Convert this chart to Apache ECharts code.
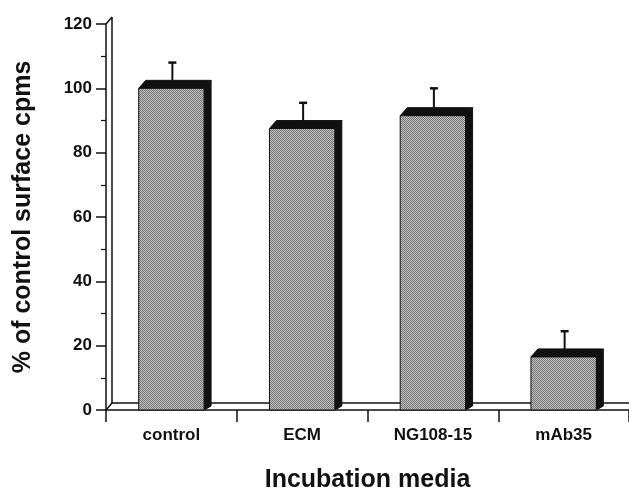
<!DOCTYPE html>
<html><head><meta charset="utf-8">
<script src="https://cdn.jsdelivr.net/npm/echarts@6/dist/echarts.min.js"></script>
<style>html,body{margin:0;padding:0;background:#fff}#c{width:629px;height:498px}</style>
</head><body><div id="c"></div>
<script>
const categories = ['control', 'ECM', 'NG108-15', 'mAb35'];
const means = [100, 87.5, 91.5, 16.5];
const errors = [8, 8, 8.5, 8];
const yMin = 0, yMax = 120, yStep = 20;
const xTitle = 'Incubation media';
const yTitle = '% of control surface cpms';

const FONT = '"Liberation Sans", Arial, Helvetica, sans-serif';
const INK = '#111';
const DX = 7, DY = -8;

function makePattern() {
  const c = document.createElement('canvas');
  c.width = 2; c.height = 2;
  const g = c.getContext('2d');
  g.fillStyle = '#bcbcbc'; g.fillRect(0, 0, 2, 2);
  g.fillStyle = '#7a7a7a'; g.fillRect(0, 0, 1, 1); g.fillRect(1, 1, 1, 1);
  return c;
}
const pat = makePattern();

function renderFrame(params, api) {
  const cs = params.coordSys;
  const xL = cs.x, xR = cs.x + cs.width, yT = cs.y, yB = cs.y + cs.height;
  const ls = { stroke: INK, lineWidth: 1.5 };
  return { type: 'group', children: [
    { type: 'line', shape: { x1: xL + 6, y1: yT - 7, x2: xL + 6, y2: yB - 7 }, style: ls },
    { type: 'line', shape: { x1: xL, y1: yT, x2: xL + 6, y2: yT - 7 }, style: ls },
    { type: 'line', shape: { x1: xL, y1: yB, x2: xL + 6, y2: yB - 7 }, style: ls },
    { type: 'line', shape: { x1: xL + 6, y1: yB - 7, x2: xR + 6, y2: yB - 7 }, style: ls }
  ]};
}

function renderBar(params, api) {
  const i = api.value(0), v = api.value(1);
  const top = api.coord([i, v]), bot = api.coord([i, 0]);
  const w = api.size([1, 0])[0] * 0.5;
  const x0 = top[0] - w / 2, x1 = top[0] + w / 2, yt = top[1], yb = bot[1];
  const black = { fill: INK, stroke: INK, lineWidth: 1 };
  return { type: 'group', children: [
    { type: 'polygon', shape: { points: [[x1, yt], [x1 + DX, yt + DY], [x1 + DX, yb - 4], [x1, yb]] }, style: black },
    { type: 'polygon', shape: { points: [[x0, yt], [x0 + DX, yt + DY], [x1 + DX, yt + DY], [x1, yt]] }, style: black },
    { type: 'rect', shape: { x: x0, y: yt, width: w, height: yb - yt }, style: { fill: { image: pat, repeat: 'repeat' }, stroke: INK, lineWidth: 1 } }
  ]};
}

function renderErr(params, api) {
  const i = api.value(0), v = api.value(1), e = api.value(2);
  const p = api.coord([i, v]), q = api.coord([i, v + e]);
  const x = p[0] + 1;
  return { type: 'group', children: [
    { type: 'line', shape: { x1: x, y1: p[1] + DY, x2: x, y2: q[1] }, style: { stroke: INK, lineWidth: 2 } },
    { type: 'line', shape: { x1: x - 4, y1: q[1], x2: x + 4, y2: q[1] }, style: { stroke: INK, lineWidth: 2.5 } }
  ]};
}

const chart = echarts.init(document.getElementById('c'), null, { renderer: 'canvas' });
chart.setOption({
  animation: false,
  backgroundColor: '#fff',
  grid: { left: 106, top: 24, width: 525, height: 392, containLabel: false },
  xAxis: {
    type: 'category', data: categories,
    axisLine: { lineStyle: { color: INK, width: 1.5 } },
    axisTick: { show: true, length: 12, lineStyle: { color: INK, width: 1.5 } },
    axisLabel: { color: INK, fontWeight: 'bold', fontSize: 17, fontFamily: FONT, margin: 17 },
    name: xTitle, nameLocation: 'middle', nameGap: 58,
    nameTextStyle: { color: INK, fontWeight: 'bold', fontSize: 25, fontFamily: FONT }
  },
  yAxis: {
    type: 'value', min: yMin, max: yMax, interval: yStep,
    axisLine: { show: true, lineStyle: { color: INK, width: 1.5 } },
    axisTick: { show: true, length: 10, lineStyle: { color: INK, width: 1.5 } },
    minorTick: { show: true, splitNumber: 2, length: 5, lineStyle: { color: INK, width: 1.2 } },
    splitLine: { show: false },
    axisLabel: { color: INK, fontWeight: 'bold', fontSize: 17, fontFamily: FONT, margin: 14 },
    name: yTitle, nameLocation: 'middle', nameGap: 70, nameRotate: 90,
    nameTextStyle: { color: INK, fontWeight: 'bold', fontSize: 25, fontFamily: FONT }
  },
  series: [
    { type: 'custom', z: 1, silent: true, renderItem: renderFrame, data: [[0, 0]] },
    { type: 'custom', z: 2, renderItem: renderErr, data: categories.map((c, i) => [i, means[i], errors[i]]) },
    { type: 'custom', z: 3, renderItem: renderBar, data: categories.map((c, i) => [i, means[i]]) }
  ]
});
</script>
</body></html>
